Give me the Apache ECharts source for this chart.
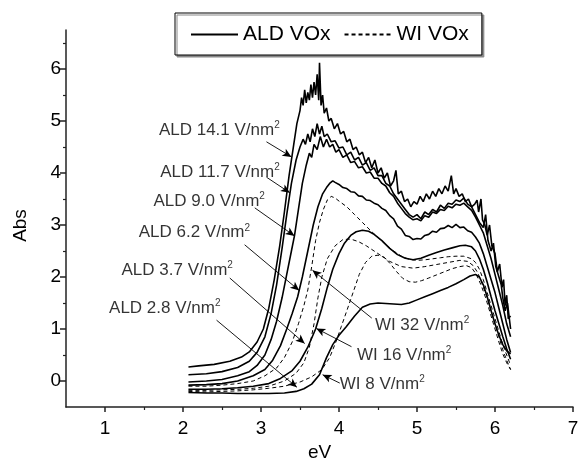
<!DOCTYPE html>
<html>
<head>
<meta charset="utf-8">
<title>ALD VOx vs WI VOx</title>
<script src="https://cdn.jsdelivr.net/npm/echarts@6/dist/echarts.min.js"></script>
<style>
  html, body { margin: 0; padding: 0; background: #fff; }
  #chart { width: 579px; height: 468px; }
</style>
</head>
<body>
<div id="chart"></div>
<script>
// spectra, [eV, Abs]
const ald141 = [[2.07,0.27],[2.2,0.29],[2.4,0.32],[2.6,0.38],[2.75,0.46],[2.85,0.56],[2.95,0.75],[3.03,1.0],[3.1,1.4],[3.17,1.95],[3.24,2.6],[3.3,3.25],[3.36,3.95],[3.42,4.55],[3.46,4.95],[3.5,5.2],[3.52,5.45],[3.54,5.3],[3.56,5.6],[3.58,5.35],[3.6,5.55],[3.62,5.4],[3.64,5.7],[3.66,5.45],[3.68,5.75],[3.7,5.5],[3.72,5.9],[3.74,5.4],[3.75,6.12],[3.77,5.3],[3.79,5.5],[3.81,5.15],[3.84,5.25],[3.87,5.0],[3.9,5.05],[3.94,4.85],[3.98,4.95],[4.02,4.75],[4.06,4.8],[4.1,4.6],[4.14,4.65],[4.18,4.45],[4.22,4.5],[4.26,4.35],[4.3,4.4],[4.34,4.2],[4.38,4.3],[4.42,4.1],[4.46,4.25],[4.5,4.0],[4.54,4.1],[4.58,3.9],[4.62,4.0],[4.66,3.75],[4.7,3.85],[4.73,4.05],[4.76,3.6],[4.8,3.65],[4.84,3.45],[4.88,3.5],[4.92,3.35],[4.96,3.45],[5.0,3.4],[5.04,3.55],[5.08,3.45],[5.12,3.6],[5.16,3.5],[5.2,3.65],[5.24,3.55],[5.28,3.7],[5.32,3.6],[5.36,3.75],[5.4,3.65],[5.44,3.95],[5.47,3.6],[5.5,3.7],[5.54,3.55],[5.58,3.6],[5.62,3.45],[5.66,3.5],[5.7,3.35],[5.74,3.4],[5.77,3.48],[5.79,3.25],[5.82,3.5],[5.84,3.1],[5.87,3.0],[5.9,2.8],[5.93,3.0],[5.96,2.6],[6.0,2.45],[6.03,2.1],[6.06,2.25],[6.09,1.8],[6.11,1.95],[6.13,1.45],[6.15,1.65],[6.17,1.2],[6.2,1.25]];
const ald117 = [[2.07,0.12],[2.3,0.14],[2.5,0.18],[2.7,0.26],[2.85,0.38],[2.95,0.55],[3.05,0.85],[3.13,1.3],[3.2,1.85],[3.27,2.55],[3.33,3.2],[3.39,3.8],[3.45,4.25],[3.5,4.5],[3.54,4.65],[3.57,4.55],[3.6,4.75],[3.63,4.6],[3.66,4.85],[3.69,4.7],[3.72,4.95],[3.75,4.75],[3.78,4.9],[3.81,4.7],[3.85,4.75],[3.9,4.6],[3.95,4.62],[4.0,4.48],[4.05,4.5],[4.1,4.35],[4.15,4.4],[4.2,4.25],[4.25,4.3],[4.3,4.15],[4.35,4.2],[4.4,4.05],[4.45,4.1],[4.5,3.95],[4.55,3.95],[4.6,3.8],[4.65,3.75],[4.7,3.6],[4.75,3.5],[4.8,3.4],[4.85,3.3],[4.9,3.2],[4.95,3.15],[5.0,3.2],[5.05,3.12],[5.1,3.25],[5.15,3.2],[5.2,3.3],[5.25,3.25],[5.3,3.38],[5.35,3.32],[5.4,3.42],[5.45,3.4],[5.5,3.48],[5.55,3.45],[5.6,3.52],[5.65,3.4],[5.7,3.35],[5.75,3.2],[5.8,3.05],[5.85,2.95],[5.88,3.2],[5.91,2.7],[5.95,2.5],[5.98,2.65],[6.01,2.2],[6.05,2.0],[6.08,1.85],[6.1,1.6],[6.13,1.35],[6.16,1.5],[6.2,1.0]];
const ald90 = [[2.07,-0.02],[2.3,0.0],[2.5,0.03],[2.7,0.1],[2.85,0.18],[2.95,0.3],[3.05,0.5],[3.13,0.8],[3.2,1.15],[3.27,1.6],[3.33,2.05],[3.39,2.5],[3.43,2.8],[3.48,3.3],[3.53,3.8],[3.58,4.15],[3.62,4.38],[3.65,4.3],[3.68,4.55],[3.72,4.45],[3.76,4.7],[3.8,4.5],[3.84,4.65],[3.88,4.5],[3.92,4.55],[3.96,4.4],[4.0,4.45],[4.05,4.3],[4.1,4.35],[4.15,4.2],[4.2,4.22],[4.25,4.1],[4.3,4.12],[4.35,4.0],[4.4,4.02],[4.45,3.9],[4.5,3.9],[4.55,3.8],[4.6,3.75],[4.65,3.62],[4.7,3.55],[4.75,3.42],[4.8,3.32],[4.85,3.22],[4.9,3.15],[4.95,3.1],[5.0,3.12],[5.05,3.08],[5.1,3.18],[5.15,3.15],[5.2,3.25],[5.25,3.22],[5.3,3.3],[5.35,3.28],[5.4,3.36],[5.45,3.33],[5.5,3.4],[5.55,3.38],[5.6,3.42],[5.65,3.35],[5.7,3.28],[5.75,3.15],[5.8,3.0],[5.85,2.85],[5.9,2.6],[5.95,2.35],[6.0,2.05],[6.05,1.75],[6.1,1.45],[6.15,1.1],[6.2,0.85]];
const ald62 = [[2.07,-0.08],[2.3,-0.07],[2.5,-0.05],[2.7,0.0],[2.9,0.1],[3.05,0.22],[3.15,0.4],[3.25,0.68],[3.33,1.0],[3.4,1.3],[3.47,1.62],[3.53,2.0],[3.6,2.5],[3.67,3.0],[3.73,3.35],[3.79,3.6],[3.84,3.72],[3.88,3.8],[3.92,3.85],[3.95,3.82],[4.0,3.78],[4.05,3.72],[4.1,3.7],[4.15,3.64],[4.2,3.63],[4.25,3.56],[4.3,3.55],[4.35,3.48],[4.4,3.47],[4.45,3.42],[4.5,3.39],[4.55,3.32],[4.6,3.28],[4.65,3.18],[4.7,3.12],[4.75,2.98],[4.8,2.92],[4.85,2.8],[4.9,2.78],[4.95,2.72],[5.0,2.74],[5.05,2.73],[5.1,2.8],[5.15,2.82],[5.2,2.88],[5.25,2.86],[5.3,2.93],[5.35,2.94],[5.4,2.99],[5.45,2.95],[5.5,3.01],[5.55,2.95],[5.6,2.96],[5.65,2.89],[5.7,2.86],[5.75,2.77],[5.8,2.65],[5.85,2.45],[5.9,2.2],[5.95,1.95],[6.0,1.7],[6.05,1.4],[6.1,1.1],[6.15,0.8],[6.2,0.55]];
const ald37 = [[2.07,-0.16],[2.3,-0.16],[2.5,-0.15],[2.7,-0.13],[2.9,-0.1],[3.1,-0.05],[3.25,0.05],[3.4,0.2],[3.5,0.38],[3.6,0.65],[3.7,1.0],[3.78,1.4],[3.85,1.8],[3.92,2.15],[4.0,2.45],[4.07,2.65],[4.15,2.8],[4.22,2.87],[4.3,2.9],[4.38,2.88],[4.45,2.82],[4.55,2.7],[4.65,2.55],[4.75,2.43],[4.85,2.36],[4.95,2.33],[5.05,2.36],[5.15,2.42],[5.25,2.47],[5.35,2.52],[5.45,2.56],[5.55,2.6],[5.62,2.61],[5.7,2.58],[5.75,2.5],[5.8,2.35],[5.85,2.15],[5.9,1.9],[5.95,1.62],[6.0,1.35],[6.05,1.1],[6.1,0.85],[6.15,0.62],[6.2,0.42]];
const ald28 = [[2.07,-0.22],[2.3,-0.23],[2.5,-0.23],[2.7,-0.24],[2.9,-0.24],[3.1,-0.24],[3.3,-0.23],[3.45,-0.2],[3.55,-0.15],[3.65,-0.06],[3.75,0.12],[3.84,0.45],[3.92,0.7],[4.0,0.88],[4.09,1.04],[4.2,1.25],[4.3,1.42],[4.4,1.48],[4.5,1.5],[4.6,1.49],[4.7,1.48],[4.8,1.47],[4.9,1.5],[5.0,1.56],[5.1,1.62],[5.2,1.68],[5.3,1.74],[5.4,1.8],[5.5,1.87],[5.6,1.95],[5.68,2.02],[5.75,2.05],[5.8,2.0],[5.85,1.85],[5.9,1.62],[5.95,1.35],[6.0,1.1],[6.05,0.88],[6.1,0.7],[6.15,0.58],[6.2,0.52]];
const wi32 = [[2.07,-0.1],[2.3,-0.1],[2.5,-0.08],[2.7,-0.05],[2.9,0.0],[3.05,0.1],[3.2,0.25],[3.3,0.45],[3.4,0.75],[3.48,1.1],[3.55,1.45],[3.6,1.75],[3.65,2.2],[3.7,2.7],[3.75,3.05],[3.8,3.3],[3.85,3.48],[3.9,3.55],[3.95,3.52],[4.0,3.46],[4.1,3.35],[4.2,3.2],[4.3,3.05],[4.4,2.9],[4.5,2.76],[4.6,2.62],[4.7,2.5],[4.8,2.4],[4.9,2.34],[5.0,2.32],[5.1,2.33],[5.2,2.35],[5.3,2.37],[5.4,2.39],[5.5,2.4],[5.6,2.4],[5.7,2.35],[5.75,2.28],[5.8,2.15],[5.85,1.95],[5.9,1.7],[5.95,1.45],[6.0,1.2],[6.05,0.95],[6.1,0.7],[6.15,0.5],[6.2,0.3]];
const wi16 = [[2.07,-0.18],[2.3,-0.18],[2.5,-0.17],[2.7,-0.16],[2.9,-0.14],[3.1,-0.1],[3.3,0.0],[3.45,0.15],[3.55,0.35],[3.62,0.65],[3.68,1.1],[3.73,1.6],[3.78,2.0],[3.85,2.35],[3.95,2.6],[4.05,2.72],[4.15,2.73],[4.25,2.68],[4.35,2.6],[4.5,2.45],[4.65,2.3],[4.8,2.2],[4.95,2.17],[5.1,2.2],[5.25,2.24],[5.4,2.28],[5.55,2.32],[5.65,2.3],[5.72,2.22],[5.78,2.08],[5.84,1.85],[5.9,1.6],[5.95,1.35],[6.0,1.1],[6.05,0.85],[6.1,0.6],[6.15,0.4],[6.2,0.22]];
const wi8 = [[2.07,-0.2],[2.3,-0.21],[2.5,-0.2],[2.7,-0.19],[2.9,-0.17],[3.1,-0.14],[3.3,-0.1],[3.5,-0.02],[3.65,0.08],[3.78,0.22],[3.88,0.45],[3.96,0.75],[4.03,1.05],[4.1,1.35],[4.18,1.7],[4.26,2.05],[4.34,2.28],[4.42,2.4],[4.5,2.42],[4.58,2.38],[4.66,2.25],[4.74,2.1],[4.82,1.97],[4.9,1.91],[4.98,1.9],[5.06,1.93],[5.15,1.98],[5.25,2.04],[5.35,2.1],[5.45,2.16],[5.55,2.2],[5.63,2.22],[5.7,2.18],[5.76,2.05],[5.82,1.85],[5.88,1.6],[5.94,1.3],[6.0,1.0],[6.05,0.75],[6.1,0.52],[6.15,0.35],[6.2,0.22]];

// annotations: text anchor and arrow (from -> to), in data units
const noteText = ["ALD 14.1 V/nm", "ALD 11.7 V/nm", "ALD 9.0 V/nm", "ALD 6.2 V/nm", "ALD 3.7 V/nm", "ALD 2.8 V/nm", "WI 32 V/nm", "WI 16 V/nm", "WI 8 V/nm"];
const noteAt = [[3.24,4.83],[3.24,4.02],[3.05,3.46],[2.86,2.85],[2.64,2.13],[2.48,1.4],[4.46,1.08],[4.23,0.5],[4.01,-0.06]];
const arrowFrom = [[3.07,4.6],[3.07,3.92],[2.92,3.33],[2.79,2.62],[2.6,1.98],[2.43,1.17],[4.42,1.21],[4.16,0.66],[4.01,-0.04]];
const arrowTo = [[3.39,4.31],[3.37,3.62],[3.43,2.79],[3.49,1.74],[3.56,0.72],[3.46,-0.12],[3.66,2.13],[3.71,1.01],[3.79,0.12]];

const xTicks = [1, 2, 3, 4, 5, 6, 7];
const yTicks = [0, 1, 2, 3, 4, 5, 6];

(function () {
  const FONT = "'Liberation Sans', Arial, sans-serif";
  const chart = echarts.init(document.getElementById("chart"), null, { renderer: "canvas" });

  const solid = (data) => ({
    name: "ALD VOx", type: "line", data, symbol: "none", silent: true,
    lineStyle: { color: "#000", width: 1.6 }, itemStyle: { color: "#000" }, z: 3,
  });
  const dashed = (data) => ({
    name: "WI VOx", type: "line", data, symbol: "none", silent: true,
    lineStyle: { color: "#000", width: 1, type: [4, 3] }, itemStyle: { color: "#000" }, z: 2,
  });

  const arrows = arrowFrom.map((f, i) => [
    { coord: f, symbol: "none" },
    { coord: arrowTo[i], symbol: "arrow" },
  ]);

  const notes = noteAt.map((p, i) => ({
    value: p,
    label: { position: i < 6 ? "left" : "right" },
    text: noteText[i],
  }));

  const axisCommon = {
    axisLine: { show: true, onZero: false, lineStyle: { color: "#222", width: 1.5 } },
    axisTick: { show: true, inside: false, length: 6, lineStyle: { color: "#222", width: 1.5 } },
    minorTick: { show: true, splitNumber: 2, length: 3, lineStyle: { color: "#222", width: 1.2 } },
    splitLine: { show: false },
    minorSplitLine: { show: false },
    axisLabel: { color: "#000", fontSize: 19, fontFamily: FONT },
    nameTextStyle: { color: "#000", fontSize: 19, fontFamily: FONT },
  };

  chart.setOption({
    animation: false,
    backgroundColor: "#fff",
    textStyle: { fontFamily: FONT },
    grid: { left: 66, right: 6, top: 30, bottom: 61, outerBoundsMode: "none", containLabel: false },
    legend: {
      data: ["ALD VOx", "WI VOx"],
      itemStyle: { opacity: 0 },
      left: 175, top: 13,
      itemWidth: 47, itemHeight: 14, itemGap: 13,
      padding: [11, 13, 10, 15],
      borderColor: "#000", borderWidth: 1,
      backgroundColor: "#fff",
      shadowColor: "#888", shadowOffsetX: 2, shadowOffsetY: 2, shadowBlur: 0,
      textStyle: { color: "#000", fontSize: 21, fontFamily: FONT },
      selectedMode: false,
    },
    xAxis: Object.assign({}, axisCommon, {
      type: "value", min: 0.5, max: 7,
      name: "eV", nameLocation: "middle", nameGap: 36,
      axisLabel: Object.assign({}, axisCommon.axisLabel, { margin: 12, customValues: xTicks }),
      axisTick: Object.assign({}, axisCommon.axisTick, { length: 5, customValues: xTicks }),
    }),
    yAxis: Object.assign({}, axisCommon, {
      type: "value", min: -0.5, max: 6.75,
      name: "Abs", nameLocation: "middle", nameGap: 36, nameRotate: 90,
      nameTextStyle: Object.assign({}, axisCommon.nameTextStyle, { padding: [0, 14, 0, 0] }),
      axisLabel: Object.assign({}, axisCommon.axisLabel, { margin: 5, customValues: yTicks }),
      axisTick: Object.assign({}, axisCommon.axisTick, { customValues: yTicks }),
    }),
    series: [
      solid(ald141), solid(ald117), solid(ald90), solid(ald62), solid(ald37), solid(ald28),
      dashed(wi32), dashed(wi16), dashed(wi8),
      {
        name: "notes", type: "scatter", symbolSize: 0, silent: true, z: 5,
        data: notes,
        label: {
          show: true, distance: 0, color: "#000",
          formatter: (p) => "{t|" + p.data.text + "}{s|2}",
          rich: {
            t: { fontSize: 17, fontFamily: FONT, color: "#000", lineHeight: 20 },
            s: { fontSize: 10, fontFamily: FONT, color: "#000", verticalAlign: "top", lineHeight: 12 },
          },
        },
        markLine: {
          silent: true, animation: false,
          symbolSize: [6, 9],
          lineStyle: { color: "#000", width: 0.9, type: "solid" },
          label: { show: false },
          data: arrows,
        },
      },
    ],
  });
})();
</script>
</body>
</html>
